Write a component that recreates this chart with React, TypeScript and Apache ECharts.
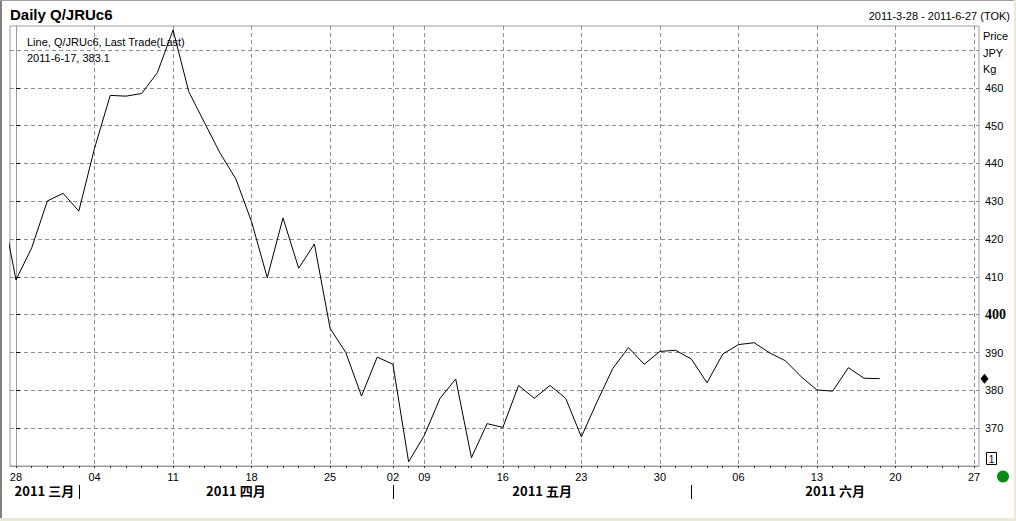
import React, { useEffect, useRef } from "react";
import * as echarts from "echarts";

// Trading days (TOCOM), the first one lies just before the visible range
const tradingDays = [
  "2011-03-25",
  "2011-03-28", "2011-03-29", "2011-03-30", "2011-03-31", "2011-04-01",
  "2011-04-04", "2011-04-05", "2011-04-06", "2011-04-07", "2011-04-08",
  "2011-04-11", "2011-04-12", "2011-04-13", "2011-04-14", "2011-04-15",
  "2011-04-18", "2011-04-19", "2011-04-20", "2011-04-21", "2011-04-22",
  "2011-04-25", "2011-04-26", "2011-04-27", "2011-04-28",
  "2011-05-02", "2011-05-06",
  "2011-05-09", "2011-05-10", "2011-05-11", "2011-05-12", "2011-05-13",
  "2011-05-16", "2011-05-17", "2011-05-18", "2011-05-19", "2011-05-20",
  "2011-05-23", "2011-05-24", "2011-05-25", "2011-05-26", "2011-05-27",
  "2011-05-30", "2011-05-31", "2011-06-01", "2011-06-02", "2011-06-03",
  "2011-06-06", "2011-06-07", "2011-06-08", "2011-06-09", "2011-06-10",
  "2011-06-13", "2011-06-14", "2011-06-15", "2011-06-16", "2011-06-17",
  "2011-06-20", "2011-06-21", "2011-06-22", "2011-06-23", "2011-06-24",
  "2011-06-27",
];

// Last trade prices (JPY/Kg), 2011-03-25 .. 2011-06-17
const prices = [
  430.7, 409.2, 417.7, 430.1, 432.1, 427.4, 444.0, 458.0, 457.8, 458.5,
  464.0, 475.3, 459.0, 450.8, 442.7, 435.9, 424.6, 409.8, 425.6, 412.3,
  418.7, 396.4, 390.0, 378.5, 388.8, 386.9, 361.1, 368.1, 377.9, 383.0,
  362.2, 371.2, 370.2, 381.3, 377.9, 381.3, 377.9, 367.7, 377.0, 385.8,
  391.3, 386.9, 390.3, 390.6, 388.3, 382.0, 389.6, 392.1, 392.6, 389.9,
  387.8, 383.6, 380.1, 379.8, 386.0, 383.2, 383.1,
];

const weekStarts = [
  "2011-03-28", "2011-04-04", "2011-04-11", "2011-04-18", "2011-04-25",
  "2011-05-02", "2011-05-09", "2011-05-16", "2011-05-23", "2011-05-30",
  "2011-06-06", "2011-06-13", "2011-06-20", "2011-06-27",
];

const monthStarts = ["2011-04-01", "2011-05-02", "2011-06-01"];
const monthLabels = ["2011 三月", "2011 四月", "2011 五月", "2011 六月"];

const yLabelTicks = [370, 380, 390, 400, 410, 420, 430, 440, 450, 460];
const yGridTicks = [370, 380, 390, 400, 410, 420, 430, 440, 450, 460, 470];

const X_MIN = -0.382;
const X_MAX = 61.318;
const Y_MIN = 360;
const Y_MAX = 476.35;

const FONT = "Liberation Sans";
const GRID_COLOR = "#908e98";
const AXIS_COLOR = "#9c9aa6";

const idxOf = (d: string) => tradingDays.indexOf(d) - 1;

export default function App() {
  const ref = useRef<HTMLDivElement>(null);

  useEffect(() => {
    const chart = echarts.init(ref.current!, null, { renderer: "svg" });

    const seriesData = prices.map((p, k) => [k - 1, p]);
    const weekVals = weekStarts.map(idxOf);
    const dayVals = tradingDays.slice(1).map((_, k) => k);
    const sepVals = monthStarts.map(idxOf);
    const bounds = [X_MIN, ...sepVals, X_MAX];
    const monthVals = monthLabels.map((_, i) => (bounds[i] + bounds[i + 1]) / 2);

    const lastDate = tradingDays[prices.length - 1];
    const lastPrice = prices[prices.length - 1];
    const [ly, lm, ld] = lastDate.split("-").map((s) => parseInt(s, 10));

    const baseX = {
      type: "value" as const,
      min: X_MIN,
      max: X_MAX,
      position: "bottom" as const,
      gridIndex: 0,
    };

    chart.setOption({
      animation: false,
      backgroundColor: "#ffffff",
      grid: {
        left: 10,
        top: 26,
        right: 37,
        bottom: 55,
        show: true,
        borderColor: AXIS_COLOR,
        borderWidth: 1,
      },
      xAxis: [
        {
          ...baseX,
          axisLine: { show: true, lineStyle: { color: AXIS_COLOR, width: 1 } },
          axisTick: {
            show: true,
            customValues: dayVals,
            length: 2,
            lineStyle: { color: "#333", width: 1 },
          },
          axisLabel: {
            show: true,
            customValues: weekVals,
            formatter: (v: number) => {
              const d = tradingDays[Math.round(v) + 1];
              return d ? d.slice(8) : "";
            },
            fontFamily: FONT,
            fontSize: 11,
            color: "#000",
            margin: 5,
          },
          splitLine: { show: false },
        },
        {
          ...baseX,
          axisLine: { show: false },
          axisTick: { show: false, customValues: weekVals },
          axisLabel: { show: false },
          splitLine: {
            show: true,
            lineStyle: { color: GRID_COLOR, type: [4, 3], width: 1 },
          },
        },
        {
          ...baseX,
          axisLine: { show: false },
          axisTick: { show: false },
          axisLabel: {
            show: true,
            customValues: monthVals,
            formatter: (v: number) => {
              const i = monthVals.findIndex((m) => Math.abs(m - v) < 1e-6);
              return i >= 0 ? monthLabels[i] : "";
            },
            fontFamily: "Noto Sans CJK SC",
            fontWeight: "bold",
            fontSize: 13,
            color: "#000",
            margin: 18,
          },
          splitLine: { show: false },
        },
        {
          ...baseX,
          offset: 19,
          axisLine: { show: false },
          axisTick: {
            show: true,
            customValues: sepVals,
            length: 14,
            lineStyle: { color: "#000", width: 1 },
          },
          axisLabel: { show: false },
          splitLine: { show: false },
        },
      ],
      yAxis: [
        {
          type: "value",
          position: "right",
          min: Y_MIN,
          max: Y_MAX,
          axisLine: { show: true, lineStyle: { color: AXIS_COLOR, width: 1 } },
          axisTick: {
            show: true,
            customValues: yLabelTicks,
            length: 4,
            lineStyle: { color: "#000", width: 1 },
          },
          axisLabel: {
            show: true,
            customValues: yLabelTicks,
            margin: 6,
            formatter: (v: number) => (v === 400 ? `{b|${v}}` : `{n|${v}}`),
            rich: {
              n: { fontFamily: FONT, fontSize: 11, color: "#000" },
              b: {
                fontFamily: "Liberation Serif",
                fontSize: 14,
                fontWeight: "bold",
                color: "#000",
              },
            },
          },
          splitLine: { show: false },
        },
        {
          type: "value",
          position: "right",
          min: Y_MIN,
          max: Y_MAX,
          axisLine: { show: false },
          axisTick: { show: false, customValues: yGridTicks },
          axisLabel: { show: false },
          splitLine: {
            show: true,
            lineStyle: { color: GRID_COLOR, type: [4, 3], width: 1 },
          },
        },
      ],
      series: [
        {
          type: "line",
          xAxisIndex: 0,
          yAxisIndex: 0,
          data: seriesData,
          showSymbol: false,
          symbol: "none",
          clip: true,
          lineStyle: { color: "#000", width: 1 },
          silent: true,
        },
      ],
    });

    const yPix = chart.convertToPixel({ yAxisIndex: 0 }, lastPrice) as number;

    const txt = (
      x: number,
      y: number,
      text: string,
      opts: any = {}
    ) => ({
      type: "text",
      x,
      y,
      silent: true,
      style: {
        text,
        fill: "#000",
        fontFamily: FONT,
        fontSize: 11,
        align: "left",
        textAlign: "left",
        verticalAlign: "middle",
        textVerticalAlign: "middle",
        ...opts,
      },
    });

    chart.setOption({
      graphic: {
        elements: [
          txt(10, 14, "Daily Q/JRUc6", { fontSize: 15, fontWeight: "bold" }),
          txt(1010, 16, "2011-3-28 - 2011-6-27 (TOK)", {
            align: "right",
            textAlign: "right",
          }),
          txt(27, 42, "Line, Q/JRUc6, Last Trade(Last)"),
          txt(27, 58, `${ly}-${lm}-${ld}, ${lastPrice.toFixed(1)}`),
          txt(983, 36, "Price"),
          txt(983, 53, "JPY"),
          txt(983, 69, "Kg"),
          {
            type: "polygon",
            silent: true,
            shape: {
              points: [
                [984.5, yPix - 5],
                [988.5, yPix],
                [984.5, yPix + 5],
                [980.5, yPix],
              ],
            },
            style: { fill: "#000" },
          },
          {
            type: "rect",
            silent: true,
            shape: { x: 986.5, y: 452.5, width: 10, height: 12 },
            style: { fill: "#fff", stroke: "#000", lineWidth: 1 },
          },
          txt(991.5, 459, "1", { fontSize: 10, align: "center", textAlign: "center" }),
          {
            type: "circle",
            silent: true,
            shape: { cx: 1003, cy: 476.5, r: 6 },
            style: { fill: "#0a8a12" },
          },
          {
            type: "rect",
            silent: true,
            shape: { x: 0, y: 0, width: 2, height: 521 },
            style: { fill: "#808080" },
          },
          {
            type: "rect",
            silent: true,
            shape: { x: 0, y: 0, width: 1016, height: 1 },
            style: { fill: "#a0a0a0" },
          },
          {
            type: "rect",
            silent: true,
            shape: { x: 0, y: 518, width: 1016, height: 3 },
            style: { fill: "#ece9d8" },
          },
          {
            type: "rect",
            silent: true,
            shape: { x: 1014, y: 0, width: 2, height: 521 },
            style: { fill: "#ece9d8" },
          },
        ],
      },
    });

    return () => chart.dispose();
  }, []);

  return (
    <div
      ref={ref}
      style={{
        position: "fixed",
        left: 0,
        top: 0,
        width: 1016,
        height: 521,
        background: "#fff",
      }}
    />
  );
}
